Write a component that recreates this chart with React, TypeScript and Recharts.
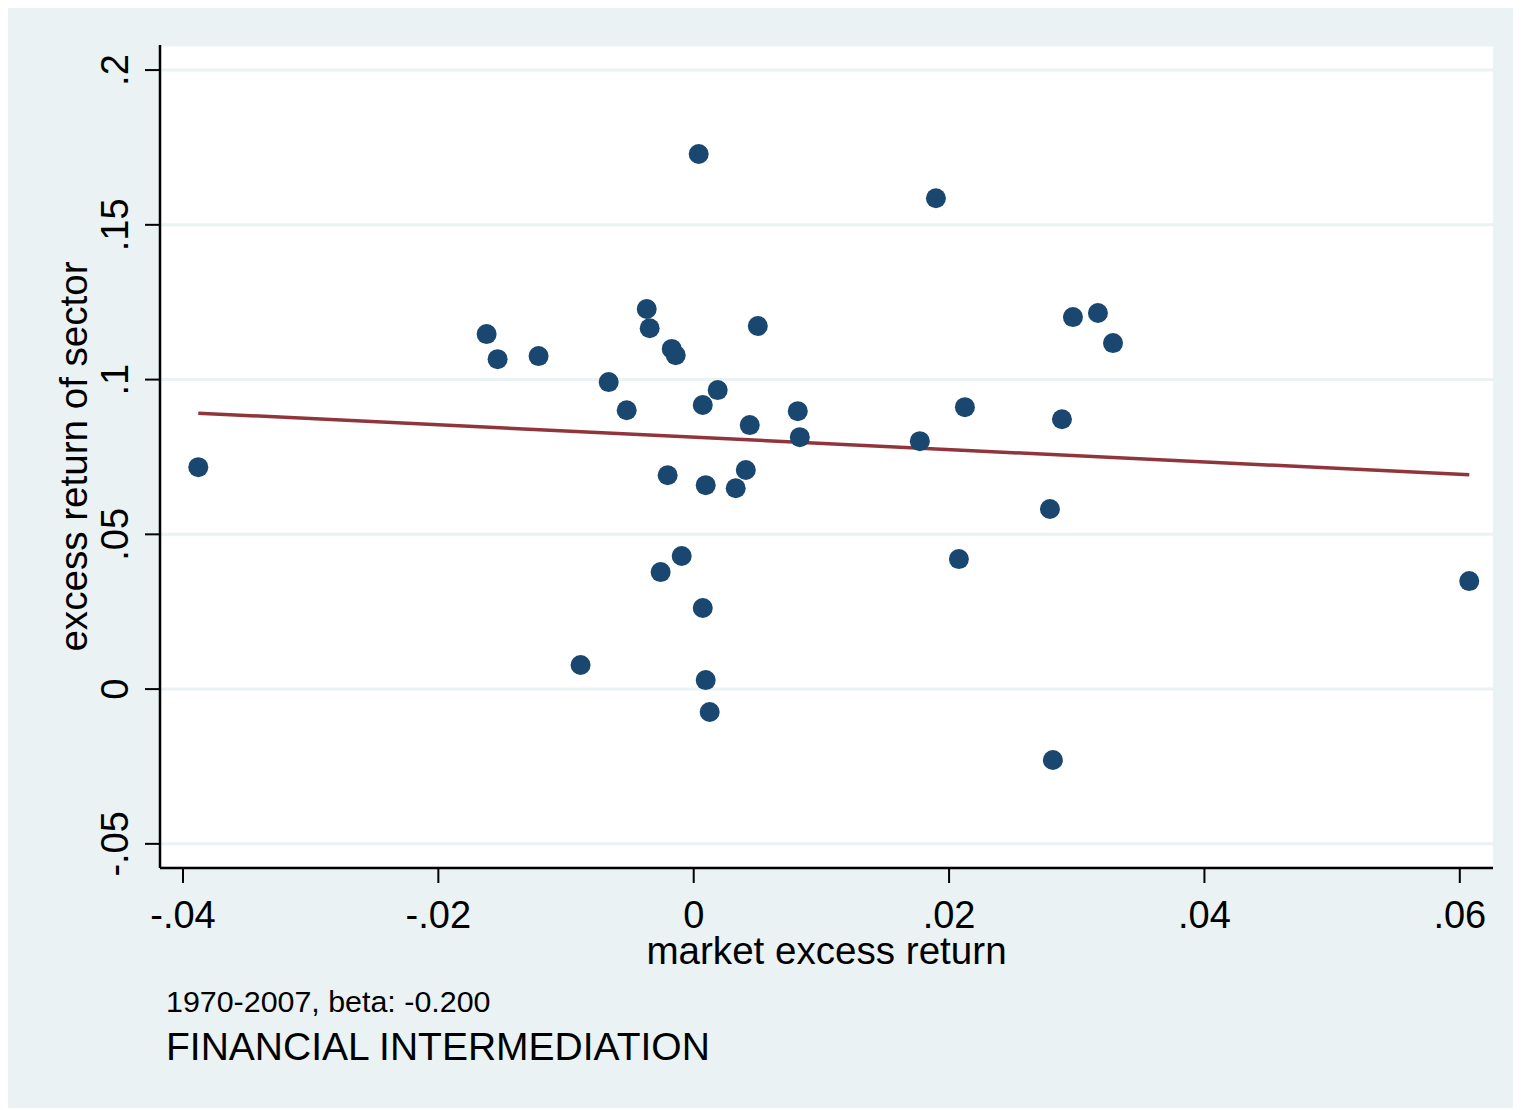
import React from "react";
import { ComposedChart, Scatter, XAxis, YAxis, CartesianGrid, Label } from "recharts";

// market excess return (x) and sector excess return (y), one entry per year
const marketExcess = [
  -0.0388, -0.01622, -0.01536, -0.01215, -0.00886, -0.00666, -0.00525, -0.00368, -0.00345, -0.00259,
  -0.00204, -0.00172, -0.00141, -0.00094, 0.00039, 0.00071, 0.00071, 0.00094, 0.00094, 0.00125,
  0.00188, 0.00329, 0.00408, 0.00439, 0.00502, 0.00815, 0.00831, 0.01771, 0.01897, 0.02077,
  0.02124, 0.0279, 0.02813, 0.02884, 0.0297, 0.03166, 0.03284, 0.06074,
];
const sectorExcess = [
  0.0717, 0.1147, 0.1066, 0.1076, 0.0078, 0.0992, 0.0901, 0.1228, 0.1166, 0.0378,
  0.0691, 0.1099, 0.1079, 0.043, 0.1729, 0.0918, 0.0262, 0.0659, 0.0029, -0.0074,
  0.0966, 0.0649, 0.0708, 0.0853, 0.1173, 0.0898, 0.0814, 0.0801, 0.1586, 0.042,
  0.0911, 0.0582, -0.0229, 0.0872, 0.1202, 0.1215, 0.1118, 0.0349,
];

// fitted line
const fitIntercept = 0.0814;
const fitBeta = -0.2;

const xTicks = [-0.04, -0.02, 0, 0.02, 0.04, 0.06];
const xTickLabels = ["-.04", "-.02", "0", ".02", ".04", ".06"];
const yTicks = [-0.05, 0, 0.05, 0.1, 0.15, 0.2];
const yTickLabels = ["-.05", "0", ".05", ".1", ".15", ".2"];

const xTitle = "market excess return";
const yTitle = "excess return of sector";
const note = "1970-2007, beta: -0.200";
const caption = "FINANCIAL INTERMEDIATION";

const BG = "#EAF2F3";
const DOT = "#1A476F";
const LINE = "#90353B";
const FONT = "'Liberation Sans', Arial, Helvetica, sans-serif";

const points = marketExcess.map((x, i) => ({ x, y: sectorExcess[i] }));
const xMin = Math.min(...marketExcess);
const xMax = Math.max(...marketExcess);
const fitData = [
  { x: xMin, y: fitIntercept + fitBeta * xMin },
  { x: xMax, y: fitIntercept + fitBeta * xMax },
];

const XTick = (props: any) => {
  const { x, y, payload } = props;
  const idx = xTicks.indexOf(payload.value);
  return (
    <text x={x} y={y + 45} textAnchor="middle" fontSize={38} fontFamily={FONT} fill="#000">
      {idx >= 0 ? xTickLabels[idx] : payload.value}
    </text>
  );
};

const YTick = (props: any) => {
  const { x, y, payload } = props;
  const idx = yTicks.indexOf(payload.value);
  const bx = x - 17;
  return (
    <text
      x={bx}
      y={y}
      transform={`rotate(-90, ${bx}, ${y})`}
      textAnchor="middle"
      fontSize={38}
      fontFamily={FONT}
      fill="#000"
    >
      {idx >= 0 ? yTickLabels[idx] : payload.value}
    </text>
  );
};

const Dot = (props: any) => {
  const { cx, cy } = props;
  if (cx == null || cy == null) return <g />;
  return <circle cx={cx} cy={cy} r={10} fill={DOT} />;
};

const NoDot = () => <g />;

export default function App() {
  return (
    <div style={{ position: "relative", width: 1513, height: 1100, background: BG }}>
      <ComposedChart
        width={1513}
        height={1100}
        margin={{ top: 37, right: 28, left: 0, bottom: 160 }}
      >
        <CartesianGrid
          vertical={false}
          horizontal={true}
          stroke={BG}
          strokeWidth={3}
          fill="#ffffff"
          fillOpacity={1}
        />
        <XAxis
          type="number"
          dataKey="x"
          domain={[-0.0418, 0.0626]}
          ticks={xTicks}
          allowDataOverflow
          height={80}
          tickSize={15}
          tickMargin={0}
          tickLine={{ stroke: "#000", strokeWidth: 2 }}
          axisLine={{ stroke: "#000", strokeWidth: 2.5 }}
          tick={<XTick />}
          interval={0}
        >
          <Label
            content={(p: any) => {
              const vb = p.viewBox;
              return (
                <text
                  x={vb.x + vb.width / 2}
                  y={vb.y + 96}
                  textAnchor="middle"
                  fontSize={38.6}
                  fontFamily={FONT}
                  fill="#000"
                >
                  {xTitle}
                </text>
              );
            }}
          />
        </XAxis>
        <YAxis
          type="number"
          dataKey="y"
          domain={[-0.0578, 0.2081]}
          ticks={yTicks}
          allowDataOverflow
          width={152}
          tickSize={15}
          tickMargin={0}
          tickLine={{ stroke: "#000", strokeWidth: 2 }}
          axisLine={{ stroke: "#000", strokeWidth: 2.5 }}
          tick={<YTick />}
          interval={0}
        >
          <Label
            content={(p: any) => {
              const vb = p.viewBox;
              const cx = vb.x + 79;
              const cy = vb.y + vb.height / 2;
              return (
                <text
                  x={cx}
                  y={cy}
                  transform={`rotate(-90, ${cx}, ${cy})`}
                  textAnchor="middle"
                  fontSize={38.6}
                  fontFamily={FONT}
                  fill="#000"
                >
                  {yTitle}
                </text>
              );
            }}
          />
        </YAxis>
        <Scatter
          name="fit"
          data={fitData}
          line={{ stroke: LINE, strokeWidth: 3.5 }}
          lineType="joint"
          shape={<NoDot />}
          isAnimationActive={false}
        />
        <Scatter name="sector" data={points} shape={<Dot />} isAnimationActive={false} />
      </ComposedChart>
      <svg
        width={1513}
        height={1100}
        style={{ position: "absolute", left: 0, top: 0, pointerEvents: "none" }}
      >
        <text x={158} y={1004} fontSize={30.4} fontFamily={FONT} fill="#000">
          {note}
        </text>
        <text x={158} y={1052} fontSize={39} fontFamily={FONT} fill="#000">
          {caption}
        </text>
      </svg>
    </div>
  );
}
